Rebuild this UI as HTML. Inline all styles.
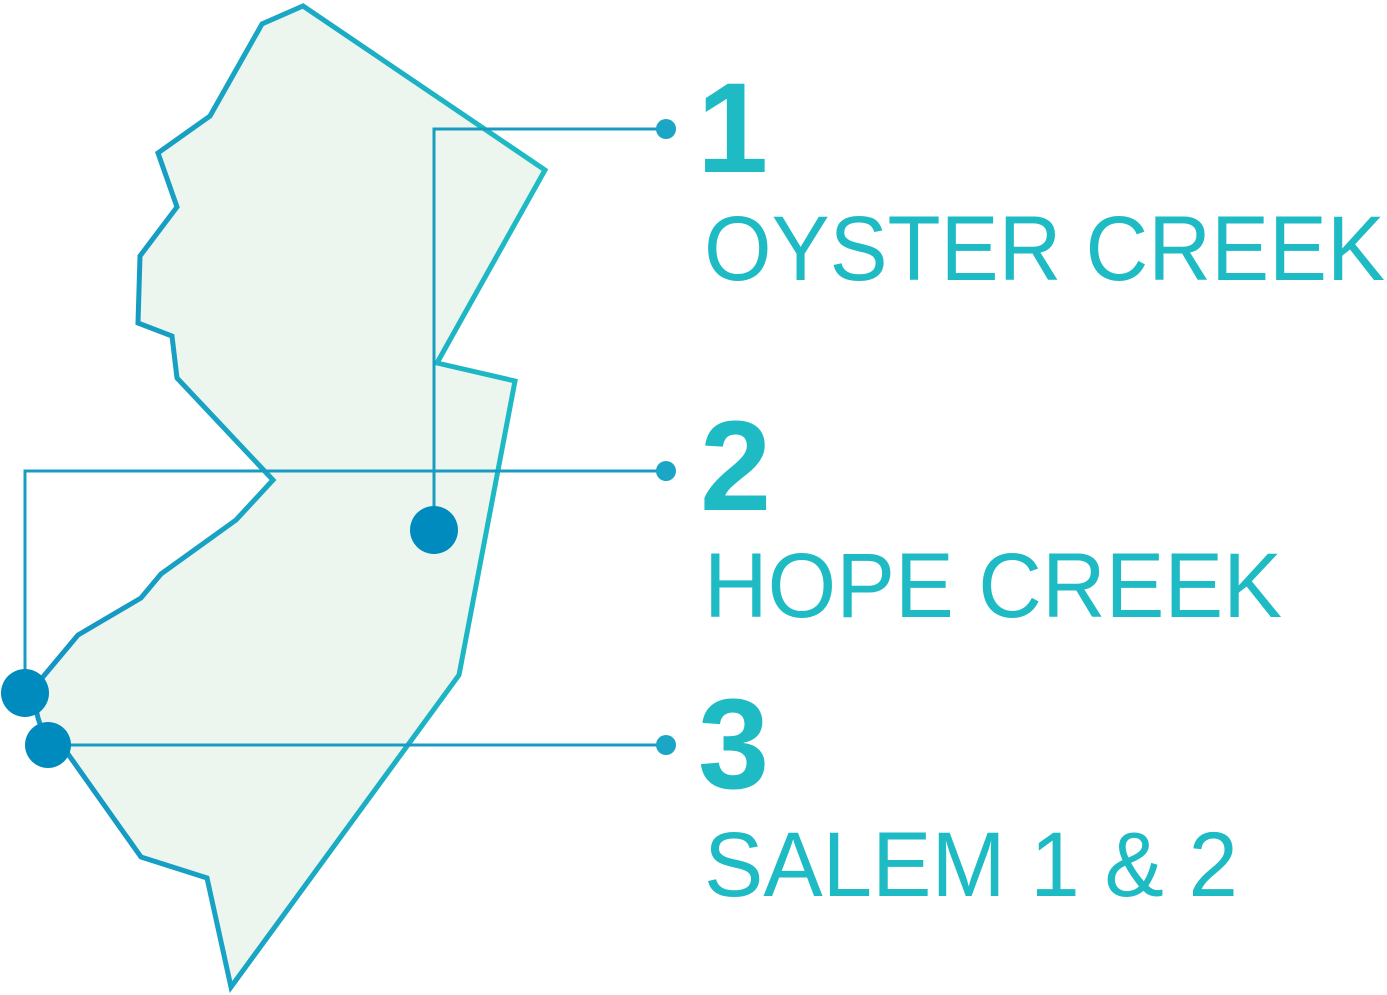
<!DOCTYPE html>
<html><head><meta charset="utf-8"><style>
html,body{margin:0;padding:0;background:#fff;width:1387px;height:995px;overflow:hidden}
svg text{font-family:"Liberation Sans",sans-serif;fill:#1fbbc4}
</style></head><body>
<svg width="1387" height="995" viewBox="0 0 1387 995" xmlns="http://www.w3.org/2000/svg">
<defs><linearGradient id="g" x1="0" x2="1" y1="0" y2="0">
<stop offset="0" stop-color="#1494c4"/><stop offset="1" stop-color="#1fbcc4"/></linearGradient></defs>
<polygon points="303,6 545,170 437,363 515,381 459,675 231,987 207,878 141,857 68,754 47,745 38,718 32,690 78,635 141,598 161,574 236,520 273,480 177,378 172,336 138,323 140,256 177,207 158,153 210,116 262,24" fill="#ecf6ef" stroke="url(#g)" stroke-width="5" stroke-linejoin="miter"/>
<g stroke="#1a9cc2" stroke-width="3" fill="none">
<polyline points="666,129 434,129 434,530"/>
<polyline points="666,471 25,471 25,693"/>
<polyline points="666,745 48,745"/>
</g>
<g fill="#1aa6c4"><circle cx="666" cy="129" r="10"/><circle cx="666" cy="471" r="10"/><circle cx="666" cy="745" r="10"/></g>
<g fill="#008bbf"><circle cx="434" cy="530" r="24"/><circle cx="25" cy="693" r="24"/><circle cx="48" cy="745" r="23"/></g>
<text x="697" y="172" font-size="128" font-weight="bold">1</text>
<text x="700" y="510" font-size="128" font-weight="bold">2</text>
<text x="698" y="788" font-size="128" font-weight="bold">3</text>
<text x="704" y="280" font-size="92" textLength="681" lengthAdjust="spacingAndGlyphs">OYSTER CREEK</text>
<text x="704" y="617" font-size="92" textLength="578" lengthAdjust="spacingAndGlyphs">HOPE CREEK</text>
<text x="704" y="896" font-size="92" textLength="534" lengthAdjust="spacingAndGlyphs">SALEM 1 &amp; 2</text>
</svg>
</body></html>
